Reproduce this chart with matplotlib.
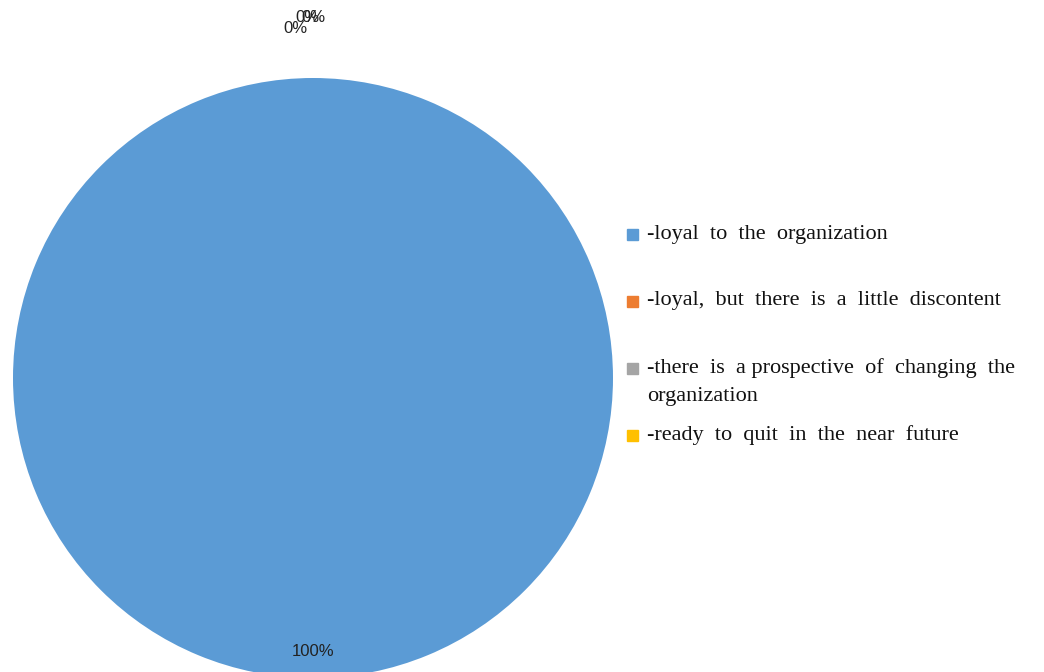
import numpy as np
import matplotlib.pyplot as plt
from matplotlib.patches import Rectangle

categories = [
    "-loyal  to  the  organization",
    "-loyal,  but  there  is  a  little  discontent",
    "-there  is  a prospective  of  changing  the",
    "-ready  to  quit  in  the  near  future",
]
wrap_line = "organization"
values = [100, 0, 0, 0]
pct_labels = ["100%", "0%", "0%", "0%"]
colors = ["#5B9BD5", "#ED7D31", "#A5A5A5", "#FFC000"]

fig = plt.figure(figsize=(10.44, 6.72), dpi=100)
W, H = 1044, 672

# pie axes: centre (313, 378) px from top-left, radius 300 px
cx, cy, r = 313, 378, 300
ax = fig.add_axes([(cx - r) / W, (H - cy - r) / H, 2 * r / W, 2 * r / H])
wedges, _ = ax.pie(values, colors=colors, startangle=90, counterclock=False,
                   radius=1.0, wedgeprops=dict(linewidth=0))
ax.set_xlim(-1, 1)
ax.set_ylim(-1, 1)
ax.set_aspect("equal")
ax.axis("off")

# data labels: 100% inside, the 0% ones pile up at the top like in Excel
label_pos = [(0.0, -0.913), (-0.06, 1.165), (-0.02, 1.20), (0.003, 1.20)]
for (x, y), txt in zip(label_pos, pct_labels):
    ax.text(x, y, txt, ha="center", va="center", fontsize=12,
            family="Liberation Sans", color="#222222", clip_on=False)

# legend drawn by hand to get Excel's uneven spacing
leg_rows = [234, 301, 368, 435]
txt_kw = dict(ha="left", va="center", fontsize=16, family="Liberation Serif",
              color="#111111")
for yrow, txt, w in zip(leg_rows, categories, wedges):
    fig.patches.append(Rectangle((627 / W, (H - yrow - 6) / H), 11 / W, 11 / H,
                                 transform=fig.transFigure,
                                 color=w.get_facecolor(), figure=fig))
    fig.text(647 / W, (H - yrow) / H, txt, **txt_kw)
fig.text(647 / W, (H - 396) / H, wrap_line, **txt_kw)

fig.savefig("out.png", dpi=100)
